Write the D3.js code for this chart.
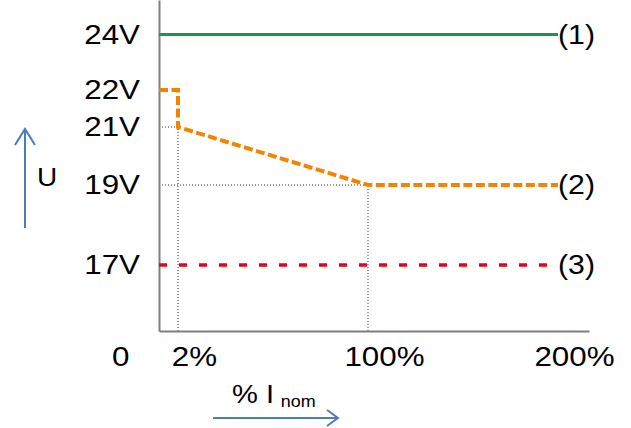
<!DOCTYPE html>
<html>
<head>
<meta charset="utf-8">
<script src="https://cdn.jsdelivr.net/npm/d3@7"></script>
<style>
  html, body { margin: 0; padding: 0; background: #fff; }
  svg { display: block; font-family: "Liberation Sans", Arial, sans-serif; }
</style>
</head>
<body>
<div id="chart"></div>
<script>
// Values (schematic, not to scale)
const xTicks = [0, 2, 100, 200];
const yTicks = [24, 22, 21, 19, 17];
const seriesNames = ["(1)", "(2)", "(3)"];
const series1 = [[0, 24], [200, 24]];
const series2 = [[0, 22], [2, 22], [2, 21], [100, 19], [200, 19]];
const series3 = [[0, 17], [200, 17]];
const guidePoints = [[2, 21], [100, 19]];

const W = 631, H = 428;
const stretch = 1.12; // the original text is a little wider than Arial

const svg = d3.select("#chart").append("svg")
    .attr("width", W)
    .attr("height", H);

// The drawing is not linear, so use piecewise scales
const x = d3.scaleLinear()
    .domain([0, 2, 100, 200, 216])
    .range([159, 178, 368, 558, 589]);

const y = d3.scaleLinear()
    .domain([15.4, 17, 19, 21, 22, 24, 25.2])
    .range([331, 265, 185, 127, 90, 34.5, 0]);

const line = d3.line()
    .x(d => x(d[0]))
    .y(d => y(d[1]));

// Dotted guide lines
guidePoints.forEach(([gx, gy]) => {
    svg.append("path")
        .attr("d", line([[0, gy], [gx, gy], [gx, 15.4]]))
        .attr("fill", "none")
        .attr("stroke", "#333")
        .attr("stroke-width", 1)
        .attr("stroke-dasharray", "1,2");
});

// Axes
const yAxis = svg.append("g")
    .attr("transform", `translate(${x(0)},0)`)
    .call(d3.axisLeft(y).tickValues(yTicks).tickSize(0).tickPadding(0)
        .tickFormat(d => d + "V"));

const xAxis = svg.append("g")
    .attr("transform", `translate(0,${y(15.4)})`)
    .call(d3.axisBottom(x).tickValues(xTicks).tickSize(0).tickPadding(0)
        .tickFormat(d => d === 0 ? "0" : d + "%"));

[yAxis, xAxis].forEach(g => {
    g.select(".domain")
        .attr("stroke", "#7f7f7f")
        .attr("stroke-width", 2);
});

yAxis.selectAll("text")
    .attr("font-size", 28)
    .attr("fill", "#000")
    .attr("x", -19 / stretch)
    .attr("transform", `scale(${stretch},1)`);

xAxis.selectAll("text")
    .attr("font-size", 28)
    .attr("fill", "#000")
    .attr("dy", 0)
    .attr("y", 35)
    .attr("text-anchor", d => d === 0 ? "end" : "middle")
    .attr("x", d => (d === 0 ? -30 : 16) / stretch)
    .attr("transform", `scale(${stretch},1)`);

// Series lines
svg.append("path")
    .attr("d", line(series1))
    .attr("fill", "none")
    .attr("stroke", "#14994a")
    .attr("stroke-width", 3);

svg.append("path")
    .attr("d", line(series2))
    .attr("fill", "none")
    .attr("stroke", "#f28500")
    .attr("stroke-width", 4)
    .attr("stroke-dasharray", "9,3.5");

svg.append("path")
    .attr("d", line(series3))
    .attr("fill", "none")
    .attr("stroke", "#e8001c")
    .attr("stroke-width", 3.5)
    .attr("stroke-dasharray", "8,12");

// Series labels at the right end
const ends = [series1, series2, series3].map(s => s[s.length - 1]);
svg.selectAll(".series-label")
    .data(ends)
    .enter()
    .append("text")
    .attr("class", "series-label")
    .attr("transform", d => `translate(${x(d[0])},${y(d[1])}) scale(${stretch},1)`)
    .attr("dy", "0.34em")
    .attr("font-size", 27)
    .text((d, i) => seriesNames[i]);

// Axis titles with arrows
const blue = "#4a7ebb";
svg.append("path")
    .attr("d", "M25,228 L25,129 M15,145 L25,129 L35,145")
    .attr("fill", "none")
    .attr("stroke", blue)
    .attr("stroke-width", 2);

svg.append("text")
    .attr("transform", `translate(37,186) scale(${stretch},1)`)
    .attr("font-size", 25)
    .text("U");

svg.append("path")
    .attr("d", "M213,418 L338,418 M327,410 L338,418 L327,426")
    .attr("fill", "none")
    .attr("stroke", blue)
    .attr("stroke-width", 2);

const xt = svg.append("text")
    .attr("transform", `translate(232,403) scale(${stretch},1)`)
    .attr("font-size", 26);
xt.append("tspan").text("% I");
xt.append("tspan").attr("font-size", 16).attr("dx", 6).attr("dy", 4).text("nom");
</script>
</body>
</html>
